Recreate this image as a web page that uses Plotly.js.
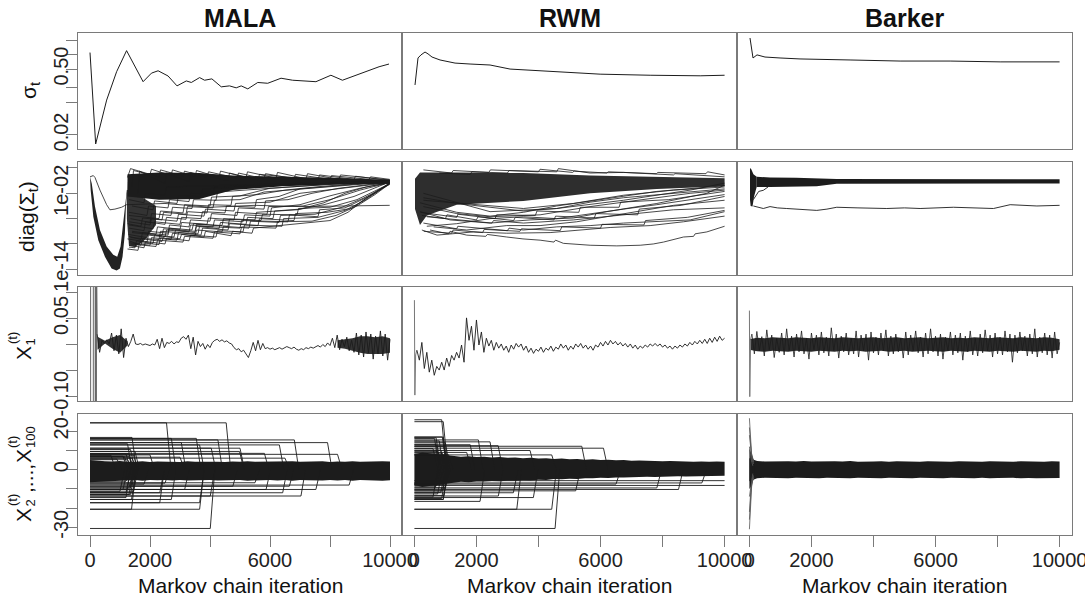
<!DOCTYPE html>
<html><head><meta charset="utf-8">
<script src="https://cdn.plot.ly/plotly-3.0.1.min.js"></script>
<style>html,body{margin:0;padding:0;background:#fff;overflow:hidden}#chart{width:1100px;height:600px}</style>
</head><body><div id="chart"></div>
<script>
// ---------------- DATA ----------------
const methods = ['MALA', 'RWM', 'Barker'];
const xTickVals = [0, 2000, 4000, 6000, 8000, 10000];
const xTickText = ['0', '2000', '', '6000', '', '10000'];
const sigmaTickVals = [2, 1, 0.5, 0.2, 0.1, 0.02];
const sigmaTickText = ['', '', '0.50', '', '', '0.02'];
const diagTickVals = [100, 0.01, 1e-6, 1e-10, 1e-14];
const diagTickText = ['', '1e-02', '', '', '1e-14'];
const x1TickVals = [0.1, 0.05, 0, -0.05, -0.1];
const x1TickText = ['', '0.05', '', '', '-0.10'];
const xrestTickVals = [20, 10, 0, -10, -20, -30];
const xrestTickText = ['20', '', '0', '', '', '-30'];

// Row 1: sigma_t
const malaSigmaIter = [0,189,555,887,1219,1440,1770,2049,2270,2602,2900,3210,3378,3654,3820,4063,4375,4651,4873,5040,5260,5592,5924,6368,6754,7531,8030,8415,8970,9635,9967];
const malaSigma = [1.12,0.0129,0.11,0.44,1.23,0.66,0.27,0.41,0.46,0.357,0.22,0.28,0.26,0.33,0.29,0.31,0.21,0.22,0.20,0.22,0.19,0.26,0.25,0.32,0.29,0.27,0.37,0.29,0.39,0.56,0.64];
const rwmSigmaIter = [19,116,213,342,439,568,826,1310,1794,2439,3084,4052,4697,5987,7600,9213,10000];
const rwmSigma = [0.23,0.86,1.0,1.15,1.05,0.90,0.78,0.67,0.64,0.61,0.50,0.455,0.435,0.39,0.37,0.36,0.37];
const barkerSigmaIter = [19,116,245,503,987,1632,3245,4858,6471,8084,10000];
const barkerSigma = [2.28,0.86,1.0,0.90,0.86,0.82,0.78,0.74,0.74,0.71,0.71];

// Row 2: diag(Sigma_t)  (each strand: iteration, value, iteration, value, ...)
const malaDiagStrands = [
 [1300,3.2e-10,1700,6.3e-11,1750,6.3e-10,2400,2.5e-10,2450,1.6e-9,3000,6.3e-10,3050,3.2e-9,3800,1.26e-9,3850,1e-8,4700,2e-9,4750,1e-8,5400,5e-9,5450,3.2e-8,6500,1e-7,7300,2.5e-7,8000,5e-7,8600,1e-5,9000,3.2e-4,9600,0.032,9990,0.4],
 [1300,3.2e-11,1500,2.5e-11,1550,3.2e-10,2100,1.26e-10,2150,2.5e-9,2800,1.26e-9,2850,1.6e-8,3500,6.3e-9,3550,6.3e-8,4300,2.5e-8,4350,2.5e-7,5200,1.26e-7,5250,1.6e-6,6100,1e-6,6150,1.6e-5,7000,3.2e-5,7800,3.2e-4,8500,0.01,9200,0.1,9990,0.5],
 [1280,3.2e-9,1900,1e-9,1950,1e-8,2600,5e-9,2650,1e-7,3300,5e-8,3350,6.3e-7,4000,4e-7,4050,6.3e-6,4900,3.2e-6,4950,5e-5,5800,3.2e-5,5850,6.3e-4,6600,1e-3,7400,0.01,8300,0.063,9990,0.63],
 [1300,3.2e-8,1800,1.26e-8,1850,3.2e-7,2500,1.26e-7,2550,1.6e-6,3200,8e-7,3250,1.26e-5,3900,8e-6,3950,1.6e-4,4700,1.26e-4,4750,3.2e-3,5600,6.3e-3,6500,0.032,7500,0.1,9990,1],
 [1350,1e-6,2000,2.5e-7,2050,6.3e-6,2700,3.2e-6,2750,6.3e-5,3400,4e-5,3450,1e-3,4200,8e-4,4250,0.016,5200,0.032,9990,1.26],
 [1300,1.6e-10,2000,6.3e-11,2050,1e-9,2900,4e-10,2950,6.3e-9,3700,2.5e-9,3750,3.2e-8,4600,1.6e-8,4650,1.6e-7,5600,8e-8,5650,1e-6,6800,5e-7,6850,6.3e-6,7900,1e-5,8700,4e-5,9300,3.2e-3,9990,0.32],
 [1400,1e-8,2200,3.2e-9,2250,5e-8,3000,2e-8,3050,2.5e-7,3900,1.26e-7,3950,1.26e-6,4800,6.3e-7,4850,1e-5,5900,5e-6,5950,8e-5,7100,1e-4,8000,1e-3,9000,0.032,9990,0.5],
 [1250,1.6e-11,1600,1e-11,1650,1.6e-10,2300,8e-11,2350,1e-9,2700,5e-10,2750,5e-9,3500,2e-9,3550,1.6e-8,4400,8e-9,4450,6.3e-8,5300,3.2e-8,5350,4e-7,6300,2.5e-7,6350,3.2e-6,7500,5e-6,8400,6.3e-5,9100,1.6e-3,9990,0.25],
 [1250,3.2,1350,80,2000,10,2050,63,2700,6.3,2750,50,3500,4,3550,40,4300,3.2,4350,32,5200,3.2,5250,25,6200,2.5,6250,20,7200,2,7250,12.6,8300,1.6,8350,8,9990,1.26],
 [1400,0.1,1450,40,2300,4,2350,50,3100,5,3150,32,3900,3.2,3950,25,4900,2.5,4950,16,5800,2,5850,12.6,6800,2,6850,10,8000,1.6,8050,6.3,9300,1.6,9350,4,9990,1.6],
 [1600,0.01,1650,32,2500,0.32,2550,16,3300,0.63,3350,20,4600,1,4650,16,5600,1.26,5650,10,7600,1.26,7650,8,8800,1.6,8850,5,9990,1],
 [1300,1e-5,1900,3.2e-6,1950,1e-4,2600,5e-5,2650,1e-3,3300,5e-4,3350,0.01,4100,6.3e-3,4150,0.1,9990,0.8],
 [1300,1e-3,1800,3.2e-4,1850,0.01,2500,5e-3,2550,0.1,9990,1],
 [1350,1e-9,2300,5e-10,2350,1e-8,3600,4e-9,3650,6.3e-8,5000,3.2e-8,5050,5e-7,6600,3.2e-7,6650,4e-6,7600,2e-6,7650,2.5e-5,8500,5e-5,9500,0.01,9990,0.4],
 [0,4,110,6.3,166,3.2,332,0.032,554,1.6e-4,664,2.5e-5,830,3.2e-5,1052,6.3e-5,1218,1.6e-4,2500,2.5e-4,4000,6.3e-5,5500,1.26e-4,7000,8e-5,8500,1e-4,9990,1.26e-4],
 [1300,3.2e-7,2000,1e-7,2050,1e-6,2900,4e-7,2950,5e-6,3800,2.5e-6,3850,3.2e-5,4800,1.6e-5,4850,2.5e-4,6000,4e-4,7000,0.01,9990,0.5],
 [1300,1.6e-9,1700,5e-10,1750,6.3e-9,2600,2.5e-9,2650,3.2e-8,3400,1.6e-8,3450,1.6e-7,4400,8e-8,4450,1e-6,5500,6.3e-7,5550,1e-5,6900,2.5e-5,7800,1.6e-4,8800,3.2e-3,9990,0.63],
 [1350,1e-10,2200,4e-11,2250,4e-10,3100,2e-10,3150,1.6e-9,4100,8e-10,4150,8e-9,5000,4e-9,5050,5e-8,6200,3.2e-8,6250,3.2e-7,7400,4e-7,8200,3.2e-6,8900,1e-4,9500,6.3e-3,9990,0.32],
 [1400,1e-4,2100,2.5e-5,2150,6.3e-4,2900,2.5e-4,2950,5e-3,3700,3.2e-3,3750,0.05,9990,1],
 [1300,1e-7,2100,2.5e-8,2150,3.2e-7,3000,1.26e-7,3050,1.6e-6,3700,1e-6,3750,1.26e-5,4500,8e-6,4550,1e-4,5500,6.3e-5,5550,1e-3,6300,3.2e-3,7000,0.05,9990,0.8],
 [1250,6.3e-10,1900,2e-10,1950,2.5e-9,2500,1.26e-9,2550,1.6e-8,3300,8e-9,3350,1e-7,4100,5e-8,4150,6.3e-7,5100,3.2e-7,5150,4e-6,6000,2.5e-6,6050,5e-5,7000,1.6e-4,8000,4e-3,9000,0.063,9990,0.5],
 [1300,3.2e-6,2300,1e-6,2350,1.6e-5,3100,8e-6,3150,1.6e-4,4000,1e-4,4050,2.5e-3,5000,4e-3,6000,0.063,9990,1],
 [1300,6.3e-11,1800,2.5e-11,1850,2.5e-10,2500,1e-10,2550,8e-10,3300,3.2e-10,3350,2.5e-9,4200,1.26e-9,4250,1.26e-8,5100,8e-9,5150,1e-7,6400,6.3e-8,6450,1e-6,7600,1.6e-6,8500,2e-5,9200,1e-3,9990,0.4],
 [1400,6.3e-9,2400,2e-9,2450,2.5e-8,3500,1e-8,3550,1.26e-7,4600,6.3e-8,4650,8e-7,5700,5e-7,5750,5e-6,6900,4e-6,6950,4e-5,8000,6.3e-5,8900,1e-3,9990,0.32],
 [1250,1.6e-7,1700,6.3e-8,1750,1.26e-6,2400,6.3e-7,2450,1e-5,3200,5e-6,3250,8e-5,4100,5e-5,4150,8e-4,5000,1e-3,5800,0.016,9990,0.63]
];
const malaDiagU = [0,4.2,22,0.033,111,2e-6,277,4e-10,498,1e-12,720,1.4e-14,886,6.3e-15,997,1.4e-14,1085,1e-12,1163,5e-9,1196,8e-5,1229,0.032,1273,1.26,1218,0.01,1174,8e-5,1107,5e-8,1019,4e-11,908,1e-12,775,2e-12,554,4e-11,332,1.6e-8,166,8e-5,60,0.32];
const malaDiagCore = [1250,10,2300,20,3650,16,4760,6.3,6420,4,8080,2.8,9990,1.4,9990,0.32,8080,0.25,6420,0.126,4760,0.032,3650,1.26e-3,2300,1e-3,1250,3.2e-3];
const malaDiagRise = [1230,0.032,1300,0.032,1700,3.2e-3,2200,1e-4,2200,1e-7,1800,3.2e-10,1500,3.2e-11,1300,5e-11,1230,1e-6];

const rwmDiagStrands = [
 [505,1.6e-8,1100,4e-9,1150,1e-8,1687,2.5e-9,2300,1.6e-9,2350,3.2e-9,2976,1.26e-9,3500,6.3e-10,4052,4e-10,4500,2e-10,4550,4e-10,4803,1.26e-10,5665,6.3e-11,6525,5e-11,7278,6.3e-11,7700,1e-10,8030,2e-10,8675,1.26e-9,9000,1.6e-9,9050,4e-9,9428,8e-9,10000,6.3e-8],
 [290,2e-7,1365,2.5e-8,1400,6.3e-8,2439,2.5e-8,3000,1.26e-8,3050,3.2e-8,3513,1.6e-8,4590,5e-8,5665,8e-8,6740,2e-7,7816,4e-7,8890,6.3e-7,10000,1.26e-5],
 [400,2e-6,1900,3.2e-7,2500,2e-7,2550,5e-7,3513,2e-7,5125,6.3e-7,6740,4e-6,8353,2.5e-5,10000,5e-5],
 [620,5e-8,1687,1.6e-8,2976,8e-8,4052,8e-8,5233,3.2e-7,6202,2e-6,7278,1.26e-5,8353,1.26e-4,10000,8e-4],
 [290,8e-5,1365,6.3e-6,2439,2e-6,4052,4e-6,5665,8e-5,7278,8e-4,8890,0.01,10000,0.032],
 [290,8e-4,1900,1.6e-4,3513,4e-5,5125,2.5e-4,6740,5e-3,8353,0.032,10000,0.1],
 [180,1.26e-5,1150,6.3e-7,2439,2e-7,3728,6.3e-7,5125,1.26e-6,6202,1.26e-5,7816,2.5e-4,9428,0.01,10000,0.2],
 [290,50,1200,16,1250,40,2400,20,2450,50,4000,25,4050,63,5100,20,5150,32,6200,16,6250,25,7800,12.6,7850,20,9400,12.6,9450,25,10000,8],
 [800,16,1800,10,1850,25,3000,16,3050,40,4590,25,4640,80,5665,16,6740,20,8353,8,8400,12.6,10000,4],
 [290,0.01,2439,1.26e-5,4590,4e-5,6740,8e-4,8890,0.032,10000,0.4],
 [240,1.6e-8,730,2.5e-9,1900,8e-9,2976,5e-9,4375,6.3e-9,5233,1.6e-8,6310,4e-8,7600,8e-8,8675,3.2e-7,10000,2.5e-6],
 [180,3.2e-4,1365,1e-5,2439,2.5e-6,3513,1e-5,4590,1e-4,5665,6.3e-4,6740,3.2e-3,7816,0.02,10000,0.16],
 [290,2e-3,1365,2.5e-4,2439,6.3e-5,3513,1.6e-5,4590,4e-5,5665,4e-4,6740,2e-3,8890,0.016,10000,0.05],
 [400,6.3e-8,1365,1.6e-7,2439,1e-6,3513,2e-6,4590,1e-6,5665,6.3e-6,6740,3.2e-5,7816,1.6e-4,8890,1e-3,10000,6.3e-3],
 [240,3.2e-6,1000,1e-6,1050,4e-6,2000,6.3e-7,2050,2e-6,3200,5e-7,3250,1.6e-6,4500,6.3e-7,4550,2.5e-6,5800,1.26e-6,5850,6.3e-6,7200,4e-6,7250,3.2e-5,8600,1.26e-4,10000,3.2e-3],
 [300,1e-8,1200,5e-9,1250,1.6e-8,2200,6.3e-9,2250,2e-8,3400,1e-8,3450,2.5e-8,4700,1.26e-8,4750,5e-8,6000,3.2e-8,6050,1.26e-7,7400,1e-7,7450,5e-7,8800,1.6e-6,10000,2e-5],
 [200,1e-5,1365,1.6e-6,1400,5e-6,2600,1e-6,2650,4e-6,3900,3.2e-6,3950,1.6e-5,5300,1e-5,5350,6.3e-5,6600,6.3e-5,6650,4e-4,8200,1e-3,10000,0.02]
];
const rwmDiagCore = [19,2,180,20,1365,20,3513,16,5665,6.3,7816,4,10000,2.5,10000,0.126,7816,0.05,5665,0.01,3513,6.3e-4,1365,1.6e-4,400,3.2e-6,180,1e-7,19,3.2e-5];

const barkerDiagSpike = [19,100,60,63,130,10,234,4,234,0.1,150,3.2e-3,100,8e-5,40,1e-4,19,1e-3];
const barkerDiagBand = [234,4,665,3.2,1500,2.8,2171,2.5,2816,1.8,10000,1.6,10000,0.35,2816,0.32,2171,0.126,665,0.1,234,0.1];
const barkerDiagStrands = [
 [126,1e-4,234,8e-5,449,4e-5,665,8e-5,900,5e-5,1203,4e-5,1700,3.2e-5,2171,2e-5,2500,3.2e-5,2816,6.3e-5,3500,5e-5,4429,4e-5,5000,5e-5,5503,4e-5,6577,6.3e-5,7300,5e-5,7868,4e-5,8406,1.6e-4,9268,1e-4,10000,1.26e-4],
 [126,1e-3,300,0.02,450,0.03,600,0.1]
];

// Row 3: X_1 traces
const malaX1BurnIter = [0,20,22,110,112,170,175,185,190,200,205,215,240];
const malaX1Burn = [0.6,0.6,-0.6,-0.6,0.6,0.6,-0.6,0.6,-0.6,0.6,-0.5,0.2,0.020];
const malaX1Start = 240, x1Step = 80;
const malaX1 = [0.020,-0.015,0.008,0.002,0.009,0.001,0.022,-0.012,0.018,-0.018,
 0.030,-0.025,0.012,-0.004,0.006,0.020,0.001,0.000,0.002,-0.001,
 0.001,0.000,-0.002,0.001,-0.001,0.010,-0.008,0.012,-0.006,0.004,
 0.002,0.006,0.001,0.005,0.004,0.012,0.015,0.010,0.018,-0.008,
 0.014,-0.020,0.006,-0.004,0.002,-0.009,0.000,-0.006,0.004,0.008,
 0.010,0.006,0.009,0.005,0.007,0.003,0.001,-0.006,-0.010,-0.008,
 -0.014,-0.011,-0.018,-0.025,-0.012,0.004,-0.012,0.008,-0.010,0.002,
 -0.008,-0.006,-0.009,-0.007,-0.010,-0.008,-0.006,-0.009,-0.007,-0.004,
 -0.006,-0.008,-0.005,-0.009,-0.011,-0.008,-0.010,-0.006,-0.008,-0.005,
 -0.007,-0.004,-0.002,-0.005,0.000,-0.004,0.003,-0.002,0.012,-0.006,
 0.018,-0.010,0.010,-0.004,0.014,-0.012,0.008,-0.015,0.022,-0.020,
 0.018,-0.024,0.024,-0.016,0.020,-0.028,0.016,-0.018,0.026,-0.022,
 0.020,-0.030,0.010];
const coreStep = 250;
// dense noise bursts of the MALA X1 trace (start: it 250-1250, end: it 8250-10000)
const malaX1BurstStart = 250, malaX1BurstUpper = [0.015,0.007,0.014,0.018,0.006], malaX1BurstLower = [-0.010,0.002,-0.008,-0.016,-0.002];
const malaX1TailStart = 8250, malaX1TailUpper = [0.008,0.010,0.012,0.016,0.016,0.014,0.016,0.012], malaX1TailLower = [-0.006,-0.008,-0.012,-0.016,-0.018,-0.018,-0.018,-0.016];
const rwmX1BurnIter = [0,15,40,80];
const rwmX1Burn = [0.085,-0.097,-0.02,-0.011];
const rwmX1Start = 80;
const rwmX1 = [-0.011,-0.030,0.004,-0.046,-0.015,-0.053,-0.030,-0.059,-0.042,-0.049,
 -0.034,-0.049,-0.026,-0.042,-0.021,-0.030,-0.015,-0.026,-0.001,-0.034,
 0.051,0.008,0.035,-0.011,0.047,-0.001,0.024,-0.015,0.012,-0.003,
 0.008,-0.011,0.004,-0.007,0.001,-0.011,-0.003,-0.015,-0.001,-0.009,
 0.002,-0.005,0.001,-0.011,-0.003,-0.015,-0.007,-0.017,-0.009,-0.013,
 -0.005,-0.015,-0.007,-0.011,-0.003,-0.013,-0.005,-0.009,0.001,-0.007,
 -0.001,-0.011,-0.003,-0.009,0.001,-0.005,0.002,-0.007,-0.001,-0.009,
 -0.003,-0.011,-0.001,-0.005,0.004,-0.003,0.006,-0.001,0.008,0.001,
 0.006,-0.001,0.004,-0.003,0.002,-0.005,0.001,-0.007,-0.001,-0.009,
 -0.003,-0.007,-0.001,-0.005,0.001,-0.003,0.002,-0.003,0.001,-0.005,
 -0.001,-0.007,-0.003,-0.009,-0.003,-0.007,-0.001,-0.005,0.001,-0.003,
 0.004,-0.001,0.006,0.001,0.008,0.002,0.010,0.002,0.012,0.004,
 0.014,0.006,0.016,0.008,0.012];
const barkerX1BurnIter = [0,12,40,80];
const barkerX1Burn = [0.065,-0.1,0.01,0.020];
const barkerX1Start = 80;
const barkerX1 = [0.020,-0.018,0.025,-0.012,0.015,-0.022,0.028,-0.010,0.018,-0.025,
 0.012,-0.015,0.022,-0.020,0.030,-0.012,0.016,-0.024,0.020,-0.014,
 0.026,-0.018,0.012,-0.028,0.022,-0.010,0.018,-0.020,0.024,-0.016,
 0.014,-0.022,0.032,-0.012,0.020,-0.026,0.016,-0.014,0.022,-0.020,
 0.012,-0.018,0.026,-0.024,0.018,-0.012,0.020,-0.030,0.024,-0.016,
 0.014,-0.020,0.022,-0.012,0.028,-0.022,0.016,-0.018,0.020,-0.014,
 0.012,-0.026,0.024,-0.020,0.018,-0.012,0.026,-0.016,0.014,-0.024,
 0.022,-0.018,0.030,-0.014,0.016,-0.022,0.020,-0.028,0.014,-0.012,
 0.024,-0.020,0.018,-0.016,0.022,-0.030,0.016,-0.014,0.026,-0.020,
 0.012,-0.022,0.020,-0.016,0.028,-0.012,0.018,-0.024,0.022,-0.018,
 0.014,-0.020,0.026,-0.014,0.020,-0.034,0.018,-0.016,0.024,-0.012,
 0.016,-0.022,0.020,-0.018,0.030,-0.024,0.014,-0.016,0.022,-0.020,
 0.018,-0.026,0.024,-0.018,0.004];
const barkerX1CoreUpper = [0.010,0.013,0.012,0.014,0.013,0.012,0.014,0.013,0.012,0.014,0.013,0.012,0.014,0.013,0.012,0.013,0.014,0.012,0.013,0.014,0.012,0.013,0.014,0.012,0.013,0.014,0.012,0.013,0.012,0.014,0.013,0.012,0.014,0.013,0.012,0.014,0.013,0.012,0.014,0.013,0.010];
const barkerX1CoreLower = [-0.010,-0.013,-0.014,-0.012,-0.013,-0.014,-0.012,-0.013,-0.014,-0.012,-0.013,-0.014,-0.012,-0.013,-0.012,-0.014,-0.013,-0.012,-0.014,-0.013,-0.012,-0.014,-0.013,-0.012,-0.013,-0.014,-0.012,-0.013,-0.014,-0.012,-0.013,-0.014,-0.012,-0.013,-0.014,-0.012,-0.013,-0.014,-0.012,-0.013,-0.010];

// Row 4: X_2 ... X_100 (strand initial value, iteration where it leaves it)
const malaStrandStart = [24.4,24.4,16.3,16.3,15.5,15.5,14.1,14.1,12.9,12.9,11.2,11.2,9.5,9.5,8.5,8.0,7.7,7.0,6.5,6.0,5.5,6.8,7.5,8.2,10.5,13.5,16.8,
 -6.0,-7.0,-8.6,-8.6,-10.3,-10.3,-10.3,-12.0,-12.0,-13.7,-13.7,-15.5,-15.5,-17.2,-17.2,-20.6,-20.6,-30.6,-8.0,-7.5,-9.5,-11.2,-12.9,-14.5,-6.8,
 8.4,7.6,6.8,6.0,5.2,-9.5,-10.3,-11.2,-12.0,-12.9];
const malaStrandSwitch = [2550,4540,2713,3544,4264,6811,3045,7918,3654,6312,4042,5000,4983,1500,5814,8250,2000,1100,3000,6500,900,1300,700,1200,1350,1250,1400,
 1200,2500,6645,4762,5869,7530,3156,6423,2326,7032,4009,2713,1384,2326,3654,1384,3654,4009,8638,1800,1300,1000,1350,1200,5500,
 1300,1450,1150,1400,1250,1350,1100,1450,1200,1300];
const bandStep = 250;
const malaBandUpper = [5.0,4.6,4.4,4.3,4.5,4.2,4.1,4.4,4.0,4.3,4.1,4.2,4.0,4.4,4.1,4.2,4.3,4.1,4.0,4.3,4.2,4.4,4.1,4.2,4.0,4.3,4.2,4.4,4.1,4.3,4.2,4.4,4.0,4.3,4.2,4.4,4.1,4.3,4.2,4.4,4.3];
const malaBandLower = [-6.5,-6.4,-6.0,-5.9,-5.8,-5.6,-5.4,-5.7,-5.3,-5.5,-5.3,-5.6,-5.4,-5.6,-5.3,-5.5,-5.4,-5.6,-5.3,-5.5,-5.4,-5.7,-5.4,-5.5,-5.3,-5.6,-5.4,-5.7,-5.4,-5.5,-5.4,-5.6,-5.3,-5.6,-5.4,-5.7,-5.4,-5.5,-5.5,-5.7,-5.5];

const rwmStrandStart = [26,25,17,15.5,14.5,12.2,11.2,10,9,7.7,13,12.5,
 -5.7,-8.2,-6.9,-10.3,-9.5,-12,-13.7,-15.5,-20.6,-20.6,-30.6,-16.5,-14.5,-11,-7.5,
 17,16.2,15,14,13.2,12,11,10.2,9.4,8.6,7.8,-7,-7.8,-8.6,-9.4,-10.2,-11,-11.8,-12.6,-13.4,-14.2,-15,-15.5,16.6];
const rwmStrandSwitch = [880,930,930,2062,2439,5396,6095,3729,1686,4427,1800,2700,
 10000,10000,9267,8514,7816,3190,2707,930,3300,4427,4535,2116,3836,5200,6500,
 900,650,800,1000,700,950,600,850,750,900,1100,800,950,700,1000,650,900,850,750,950,600,880,930,700];
const rwmBandUpper = [8,9,8.5,8,7.5,7.2,6.8,7.0,6.6,6.8,6.4,6.6,6.2,6.4,6.0,6.2,5.8,6.0,5.6,5.8,5.4,5.6,5.2,5.4,5.0,5.2,4.9,5.0,4.7,4.8,4.6,4.7,4.4,4.5,4.3,4.4,4.2,4.3,4.1,4.3,4.2];
const rwmBandLower = [-8,-9,-8.5,-8,-7.2,-6.8,-6.3,-6.5,-6.1,-6.2,-5.9,-6.0,-5.7,-5.8,-5.5,-5.6,-5.2,-5.3,-4.9,-5.0,-4.7,-4.8,-4.4,-4.5,-4.2,-4.3,-4.0,-4.1,-3.8,-3.9,-3.7,-3.8,-3.5,-3.6,-3.4,-3.5,-3.3,-3.4,-3.2,-3.3,-3.2];

const barkerSpindleStrands = [
 [0,26.8,30,18,70,8,130,3],
 [0,-31,30,-20,70,-9,130,-3],
 [0,18,40,10,90,4],
 [0,-22,40,-12,100,-4],
 [0,12,50,6,110,2],
 [0,-14,50,-7,110,-2],
 [0,22,20,16,60,9,140,4],
 [0,-26,25,-17,65,-8,140,-4]
];
const barkerSpindleCore = [0,11,50,9,100,6,150,4.5,150,-4.5,100,-6,50,-9,0,-10];
const barkerBandUpper = [6.0,4.5,4.3,4.4,4.2,4.4,4.3,4.5,4.3,4.4,4.2,4.4,4.3,4.5,4.2,4.4,4.3,4.4,4.2,4.4,4.3,4.5,4.2,4.4,4.3,4.4,4.2,4.4,4.3,4.5,4.2,4.4,4.3,4.4,4.2,4.4,4.3,4.5,4.2,4.4,4.3];
const barkerBandLower = [-6.0,-4.4,-4.2,-4.4,-4.3,-4.5,-4.2,-4.4,-4.3,-4.4,-4.2,-4.5,-4.3,-4.4,-4.2,-4.4,-4.3,-4.5,-4.2,-4.4,-4.3,-4.4,-4.2,-4.5,-4.3,-4.4,-4.2,-4.4,-4.3,-4.5,-4.2,-4.4,-4.3,-4.4,-4.2,-4.5,-4.3,-4.4,-4.2,-4.4,-4.3];

// ---------------- DRAWING ----------------
const W = 1100, H = 600;   // page window shows the left 1085 px
const FONT = 'Liberation Sans, Arial, Helvetica, sans-serif';
const INK = '#1c1c1c';
const FRAME = '#7a7a7a';
const colPx = [[78, 402], [402, 737], [737, 1072]];
const rowPx = [[33, 149], [162, 275], [287, 401], [414, 535]];
const traces = [];

function axIds(n) { return n === 1 ? ['x', 'y'] : ['x' + n, 'y' + n]; }
function addLine(n, xs, ys, color, width) {
  const [xa, ya] = axIds(n);
  traces.push({type: 'scatter', mode: 'lines', x: xs, y: ys, xaxis: xa, yaxis: ya,
    line: {color: color || INK, width: width || 1}, hoverinfo: 'skip', showlegend: false});
}
function addFill(n, xs, ys, color) {
  const [xa, ya] = axIds(n);
  traces.push({type: 'scatter', mode: 'lines', x: xs, y: ys, xaxis: xa, yaxis: ya, fill: 'toself',
    fillcolor: color || INK, line: {width: 0, color: color || INK}, hoverinfo: 'skip', showlegend: false});
}
function unpair(flat) { const xs = [], ys = []; for (let i = 0; i < flat.length; i += 2) { xs.push(flat[i]); ys.push(flat[i + 1]); } return [xs, ys]; }
function joinStrands(list) {
  const xs = [], ys = [];
  list.forEach(s => { const [a, b] = unpair(s); xs.push(...a, null); ys.push(...b, null); });
  return [xs, ys];
}
function iterGrid(start, step, vals) { return vals.map((_, i) => start + i * step); }
function bandPolygon(start, step, up, lo) {
  const xs = iterGrid(start, step, up);
  return [xs.concat(xs.slice().reverse()), up.concat(lo.slice().reverse())];
}
function elbowStrands(starts, switches, drop) {
  const xs = [], ys = [];
  starts.forEach((v, i) => {
    const t = switches[i];
    if (t >= 10000) { xs.push(0, 10000, null); ys.push(v, v, null); }
    else { xs.push(0, t, t + drop, null); ys.push(v, v, 0, null); }
  });
  return [xs, ys];
}

// Row 1
addLine(1, malaSigmaIter, malaSigma);
addLine(2, rwmSigmaIter, rwmSigma);
addLine(3, barkerSigmaIter, barkerSigma);

// Row 2
addFill(4, ...unpair(malaDiagU), '#222');
addFill(4, ...unpair(malaDiagRise), '#333');
addFill(4, ...unpair(malaDiagCore), INK);
addLine(4, ...joinStrands(malaDiagStrands), INK, 0.8);
addFill(5, ...unpair(rwmDiagCore), '#2e2e2e');
addLine(5, ...joinStrands(rwmDiagStrands), INK, 0.8);
addFill(6, ...unpair(barkerDiagSpike), INK);
addFill(6, ...unpair(barkerDiagBand), INK);
addLine(6, ...joinStrands(barkerDiagStrands), INK, 0.9);

// Row 3
addFill(7, ...bandPolygon(malaX1BurstStart, coreStep, malaX1BurstUpper, malaX1BurstLower), '#333');
addFill(7, ...bandPolygon(malaX1TailStart, coreStep, malaX1TailUpper, malaX1TailLower), '#333');
addLine(7, malaX1BurnIter, malaX1Burn, '#666', 1);
addLine(7, iterGrid(malaX1Start, x1Step, malaX1), malaX1, INK, 0.9);
addLine(8, rwmX1BurnIter, rwmX1Burn, '#777', 1);
addLine(8, iterGrid(rwmX1Start, x1Step, rwmX1), rwmX1, INK, 0.9);
addFill(9, ...bandPolygon(0, coreStep, barkerX1CoreUpper, barkerX1CoreLower), '#2a2a2a');
addLine(9, barkerX1BurnIter, barkerX1Burn, '#777', 1);
addLine(9, iterGrid(barkerX1Start, x1Step, barkerX1), barkerX1, INK, 0.8);

// Row 4
addFill(10, ...bandPolygon(0, bandStep, malaBandUpper, malaBandLower), INK);
addLine(10, ...elbowStrands(malaStrandStart, malaStrandSwitch, 150), INK, 0.9);
addFill(11, ...bandPolygon(0, bandStep, rwmBandUpper, rwmBandLower), INK);
addLine(11, ...elbowStrands(rwmStrandStart, rwmStrandSwitch, 150), INK, 0.9);
addFill(12, ...bandPolygon(0, bandStep, barkerBandUpper, barkerBandLower), INK);
addFill(12, ...unpair(barkerSpindleCore), INK);
addLine(12, ...joinStrands(barkerSpindleStrands), '#555', 0.8);

// Layout
const layout = {width: W, height: H, margin: {l: 0, r: 0, t: 0, b: 0},
  paper_bgcolor: '#fff', plot_bgcolor: '#fff', showlegend: false, annotations: []};
const yTypes = ['log', 'log', 'linear', 'linear'];
const yRanges = [[-1.996, 0.464], [-14.9, 2.945], [-0.1083, 0.1102], [-34.0, 29.0]];
const yTicks = [[sigmaTickVals, sigmaTickText], [diagTickVals, diagTickText], [x1TickVals, x1TickText], [xrestTickVals, xrestTickText]];
for (let r = 0; r < 4; r++) {
  for (let c = 0; c < 3; c++) {
    const n = r * 3 + c + 1, s = n === 1 ? '' : String(n);
    const [xa, ya] = axIds(n);
    layout['xaxis' + s] = {domain: [colPx[c][0] / W, colPx[c][1] / W], range: [-400, 10400], anchor: ya,
      showline: true, mirror: true, linecolor: FRAME, linewidth: 1, showgrid: false, zeroline: false,
      ticks: r === 3 ? 'outside' : '', ticklen: 11, tickwidth: 1, tickcolor: FRAME,
      tickmode: 'array', tickvals: xTickVals, ticktext: xTickText, showticklabels: r === 3,
      ticklabelstandoff: -4, tickfont: {family: FONT, size: 20, color: '#222'}, fixedrange: true};
    layout['yaxis' + s] = {domain: [1 - rowPx[r][1] / H, 1 - rowPx[r][0] / H], type: yTypes[r], range: yRanges[r], anchor: xa,
      showline: true, mirror: true, linecolor: FRAME, linewidth: 1, showgrid: false, zeroline: false,
      ticks: c === 0 ? 'outside' : '', ticklen: 11, tickwidth: 1, tickcolor: FRAME,
      tickmode: 'array', tickvals: yTicks[r][0], ticktext: yTicks[r][1], showticklabels: c === 0,
      tickangle: -90, ticklabelstandoff: -10, tickfont: {family: FONT, size: 20, color: '#222'}, fixedrange: true};
  }
}
function ann(text, px, py, size, angle, bold) {
  layout.annotations.push({text: bold ? '<b>' + text + '</b>' : text, xref: 'paper', yref: 'paper',
    x: px / W, y: 1 - py / H, xanchor: 'center', yanchor: 'middle', showarrow: false,
    textangle: angle || 0, font: {family: FONT, size: size, color: '#111'}});
}
methods.forEach((m, c) => {
  const cx = (colPx[c][0] + colPx[c][1]) / 2;
  ann(m, cx, 18, 25, 0, true);
  ann('Markov chain iteration', cx, 585, 21, 0, false);
});
ann('σ<sub>t</sub>', 30, 91, 21, -90);
ann('diag(Σ<sub>t</sub>)', 28, 217, 21, -90);
ann('X', 23, 353, 21, -90);
ann('(t)', 12, 338, 13, -90);
ann('1', 30, 342.5, 13, -90);
ann('X', 23, 515, 21, -90);
ann('(t)', 12, 500, 13, -90);
ann('2', 30, 503.5, 13, -90);
ann(',...,', 25, 479, 21, -90);
ann('X', 23, 456, 21, -90);
ann('(t)', 12, 442, 13, -90);
ann('100', 30, 437, 13, -90);

Plotly.newPlot('chart', traces, layout, {staticPlot: true, displayModeBar: false});
</script></body></html>
